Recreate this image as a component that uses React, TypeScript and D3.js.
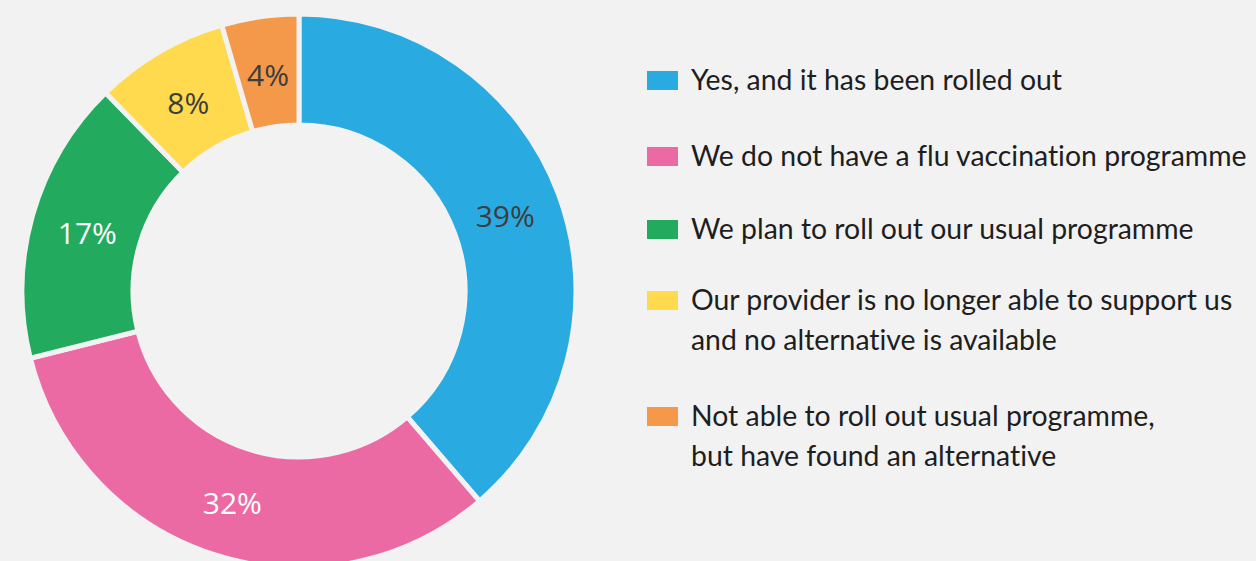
import React from "react";
import * as d3 from "d3";

const categories = [
  "Yes, and it has been rolled out",
  "We do not have a flu vaccination programme",
  "We plan to roll out our usual programme",
  "Our provider is no longer able to support us|and no alternative is available",
  "Not able to roll out usual programme,|but have found an alternative",
];
// estimated shares; labels are the rounded figures shown
const values = [38.7, 32.4, 16.6, 7.8, 4.5];
const valueLabels = ["39%", "32%", "17%", "8%", "4%"];
const colors = ["#29abe2", "#ec6aa3", "#22aa5e", "#ffd94e", "#f4984a"];
const labelColors = ["#3d3d3d", "#ffffff", "#ffffff", "#3d3d3d", "#3d3d3d"];

const W = 1256;
const H = 561;
const cx = 299;
const cy = 291;
const outerR = 277;
const innerR = 166;
const labelR = 220;
const legendTop = [71, 147, 220, 291, 407];

export default function App() {
  const pie = d3.pie<number>().sort(null).value((d) => d);
  const arcs = pie(values);
  const arcGen = d3.arc<d3.PieArcDatum<number>>().innerRadius(innerR).outerRadius(outerR);
  const labelArc = d3.arc<d3.PieArcDatum<number>>().innerRadius(labelR).outerRadius(labelR);
  return (
    <div style={{ position: "fixed", left: 0, top: 0, width: W, height: H, background: "#f2f2f2" }}>
      <svg width={W} height={H} style={{ display: "block" }}>
        <rect width={W} height={H} fill="#f2f2f2" />
        <g transform={`translate(${cx},${cy})`}>
          {arcs.map((a, i) => (
            <path key={i} d={arcGen(a) || ""} fill={colors[i]} stroke="#f2f2f2" strokeWidth={5} />
          ))}
          {arcs.map((a, i) => {
            const [x, y] = labelArc.centroid(a);
            return (
              <text key={"l" + i} x={x} y={y} dy="0.43em" textAnchor="middle" fill={labelColors[i]}
                style={{ fontFamily: "'Open Sans', sans-serif", fontSize: 30 }}>
                {valueLabels[i]}
              </text>
            );
          })}
        </g>
        {categories.map((c, i) => {
          const lines = c.split("|");
          return (
            <g key={"g" + i}>
              <rect x={647} y={legendTop[i]} width={31} height={19} fill={colors[i]} />
              {lines.map((ln, j) => (
                <text key={j} x={691} y={legendTop[i] + 19 + j * 40} fill="#1e1e1e"
                  style={{ fontFamily: "Lato, sans-serif", fontSize: 28.4, fontVariantLigatures: "none", fontFeatureSettings: "'liga' 0" }}>
                  {ln}
                </text>
              ))}
            </g>
          );
        })}
      </svg>
    </div>
  );
}
